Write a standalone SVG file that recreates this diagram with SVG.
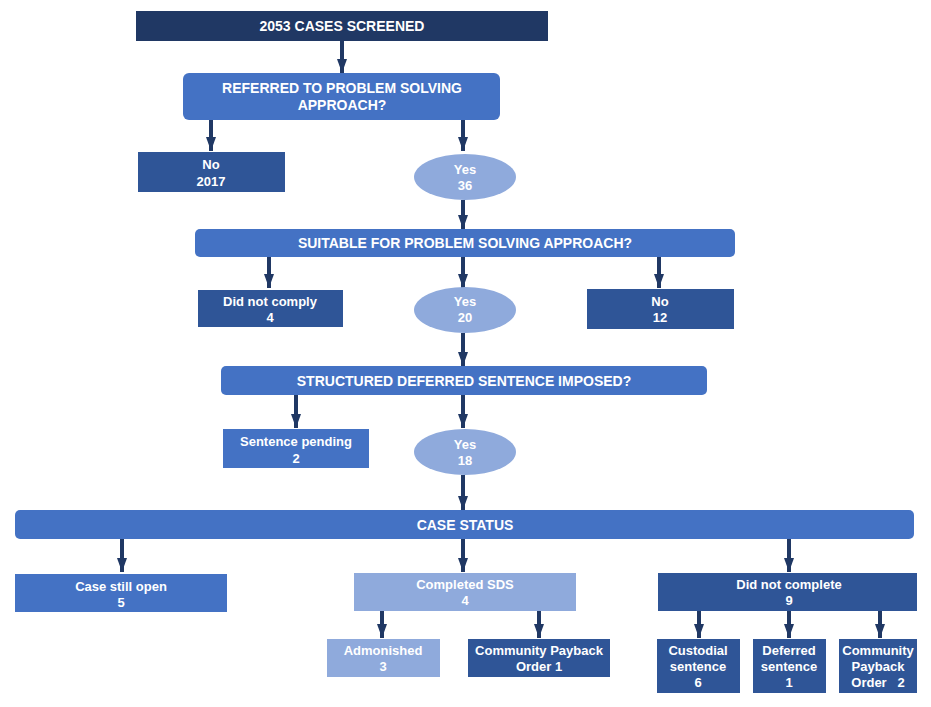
<svg xmlns="http://www.w3.org/2000/svg" width="931" height="707" viewBox="0 0 931 707">
<style>
text{font-family:"Liberation Sans",Arial,sans-serif;font-weight:bold;fill:#fff;text-anchor:middle;font-size:13px}
.h{font-size:14px}
.navy{fill:#203864}.mid{fill:#4472C4}.dk{fill:#2F5597}.lt{fill:#8FAADC}
.c line{stroke:#203864;stroke-width:4;marker-end:url(#a)}
</style>
<defs><marker id="a" markerUnits="userSpaceOnUse" markerWidth="14" markerHeight="10" refX="14" refY="5" orient="auto"><path d="M0,0L14,5L0,10z" fill="#203864"/></marker></defs>
<rect width="931" height="707" fill="#fff"/>
<g class="c">
<line x1="342" y1="41" x2="342" y2="73"/>
<line x1="211" y1="120" x2="211" y2="151"/>
<line x1="463" y1="120" x2="463" y2="151"/>
<line x1="463" y1="200" x2="463" y2="229"/>
<line x1="269" y1="257" x2="269" y2="288"/>
<line x1="463" y1="257" x2="463" y2="288"/>
<line x1="659" y1="257" x2="659" y2="288"/>
<line x1="463" y1="333" x2="463" y2="366"/>
<line x1="296" y1="395" x2="296" y2="428"/>
<line x1="463" y1="395" x2="463" y2="428"/>
<line x1="463" y1="475" x2="463" y2="510"/>
<line x1="122" y1="539" x2="122" y2="572"/>
<line x1="463" y1="539" x2="463" y2="572"/>
<line x1="789" y1="539" x2="789" y2="572"/>
<line x1="382" y1="611" x2="382" y2="638"/>
<line x1="539" y1="611" x2="539" y2="638"/>
<line x1="699" y1="611" x2="699" y2="638"/>
<line x1="789" y1="611" x2="789" y2="638"/>
<line x1="880" y1="611" x2="880" y2="638"/>
</g>
<g id="screened"><rect class="navy" x="136" y="11" width="412" height="30"/><text class="h" x="342" y="31">2053 CASES SCREENED</text></g>
<g id="referred"><rect class="mid" x="183" y="73" width="317" height="47" rx="6"/><text class="h" x="342" y="93">REFERRED TO PROBLEM SOLVING</text><text class="h" x="342" y="110">APPROACH?</text></g>
<g id="no1"><rect class="dk" x="138" y="152" width="147" height="40"/><text x="211" y="169">No</text><text x="211" y="186">2017</text></g>
<g id="yes1"><ellipse class="lt" cx="465" cy="177" rx="51" ry="23"/><text x="465" y="174">Yes</text><text x="465" y="190">36</text></g>
<g id="suitable"><rect class="mid" x="195" y="229" width="540" height="28" rx="5"/><text class="h" x="465" y="248">SUITABLE FOR PROBLEM SOLVING APPROACH?</text></g>
<g id="notcomply"><rect class="dk" x="198" y="290" width="145" height="37"/><text x="270" y="306">Did not comply</text><text x="270" y="322">4</text></g>
<g id="yes2"><ellipse class="lt" cx="465" cy="310" rx="51" ry="23"/><text x="465" y="306">Yes</text><text x="465" y="322">20</text></g>
<g id="no2"><rect class="dk" x="587" y="289" width="147" height="40"/><text x="660" y="306">No</text><text x="660" y="322">12</text></g>
<g id="structured"><rect class="mid" x="221" y="366" width="486" height="29" rx="5"/><text class="h" x="464" y="386">STRUCTURED DEFERRED SENTENCE IMPOSED?</text></g>
<g id="pending"><rect class="mid" x="223" y="429" width="146" height="39"/><text x="296" y="446">Sentence pending</text><text x="296" y="463">2</text></g>
<g id="yes3"><ellipse class="lt" cx="465" cy="452" rx="51" ry="23"/><text x="465" y="449">Yes</text><text x="465" y="465">18</text></g>
<g id="status"><rect class="mid" x="15" y="510" width="899" height="29" rx="5"/><text class="h" x="465" y="530">CASE STATUS</text></g>
<g id="open"><rect class="mid" x="15" y="574" width="212" height="38"/><text x="121" y="591">Case still open</text><text x="121" y="607">5</text></g>
<g id="completed"><rect class="lt" x="354" y="573" width="222" height="38"/><text x="465" y="589">Completed SDS</text><text x="465" y="605">4</text></g>
<g id="didnot"><rect class="dk" x="658" y="573" width="259" height="38"/><text x="789" y="589">Did not complete</text><text x="789" y="605">9</text></g>
<g id="admon"><rect class="lt" x="327" y="639" width="113" height="38"/><text x="383" y="655">Admonished</text><text x="383" y="671">3</text></g>
<g id="cpo1"><rect class="dk" x="468" y="639" width="142" height="38"/><text x="539" y="655">Community Payback</text><text x="539" y="671">Order 1</text></g>
<g id="custodial"><rect class="dk" x="657" y="639" width="83" height="54"/><text x="698" y="655">Custodial</text><text x="698" y="671">sentence</text><text x="698" y="687">6</text></g>
<g id="deferred"><rect class="dk" x="753" y="639" width="73" height="54"/><text x="789" y="655">Deferred</text><text x="789" y="671">sentence</text><text x="789" y="687">1</text></g>
<g id="cpo2"><rect class="dk" x="839" y="639" width="78" height="54"/><text x="878" y="655">Community</text><text x="878" y="671">Payback</text><text x="878" y="687" xml:space="preserve">Order   2</text></g>
</svg>
